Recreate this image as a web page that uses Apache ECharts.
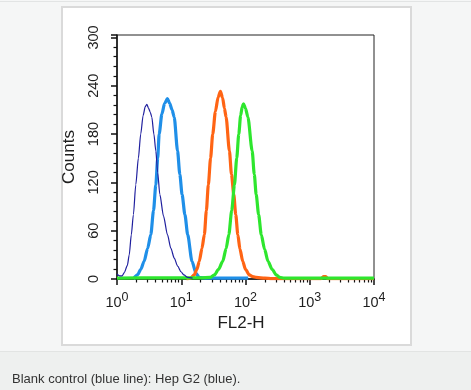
<!DOCTYPE html>
<html>
<head>
<meta charset="utf-8">
<script src="https://cdn.jsdelivr.net/npm/echarts@6/dist/echarts.min.js"></script>
<style>
html,body{margin:0;padding:0;background:#f5f6f6;}
#chart{width:471px;height:390px;}
</style>
</head>
<body>
<div id="chart"></div>
<script>
// ---- data (FL2-H intensity, counts) ----
const controlX = [1.0, 1.1, 1.2, 1.3, 1.45, 1.55, 1.67, 1.8, 1.96, 2.15, 2.34, 2.55, 2.75, 2.91, 3.1, 3.3, 3.48, 3.75, 4.02, 4.3, 4.64, 5.3, 6.1, 6.9, 7.77, 8.8, 9.9, 11, 12.6, 15];
const controlY = [6, 4, 4, 8, 17, 30, 55, 80, 117, 150, 180, 203, 214, 217, 212, 207, 201, 180, 159, 132, 105, 78, 55, 38, 26, 16, 9, 5, 2, 1];

const hepBlueX = [1.8, 2.08, 2.35, 2.64, 3.0, 3.36, 3.7, 4.02, 4.3, 4.53, 5.0, 5.5, 6.1, 6.6, 7.2, 7.77, 8.76, 9.5, 10.3, 11.4, 12.6, 14.7, 17, 19, 25, 40, 110];
const hepBlueY = [0, 5, 12, 22, 38, 55, 85, 117, 150, 180, 205, 218, 224, 218, 210, 201, 159, 130, 105, 80, 55, 22, 7, 2, 1, 1, 1];

const orangeX = [12, 14, 15.9, 17.5, 19.1, 21, 22.9, 24.6, 26.4, 28.6, 30.9, 34, 37.5, 40.7, 44, 47, 49.9, 56.2, 60.5, 65.7, 70.5, 76, 82, 90.6, 100, 115, 130, 147, 200, 260, 1500, 1650, 1780, 1900, 10000];
const orangeY = [0, 1, 5, 12, 22, 38, 55, 85, 117, 150, 180, 208, 226, 233, 225, 212, 201, 159, 130, 105, 80, 55, 37, 22, 12, 5, 3, 2, 1, 0.5, 0.5, 3, 3, 0.5, 0.5];

const greenX = [1, 5, 10, 20, 28, 32.8, 38, 44.2, 50, 55, 61, 67.3, 73, 78.6, 84, 89, 93, 100, 109, 127, 137, 146.6, 160, 176, 198, 224, 260, 302, 340, 400, 1000, 10000];
const greenY = [1, 1.5, 1.5, 1.5, 2, 5, 12, 22, 38, 55, 85, 117, 150, 180, 203, 214, 217.5, 212, 201, 159, 130, 105, 80, 55, 37, 22, 12, 5, 2, 1, 1, 1];

const yTicks = [0, 60, 120, 180, 240, 300];
const captionText = 'Blank control (blue line): Hep G2 (blue).';

function pairs(xs, ys) { return xs.map((x, i) => [x, ys[i]]); }

// minor log ticks (2..9 per decade) expressed in decade units for the overlay axis
const minorTickValues = [];
for (let d = 0; d < 4; d++) {
  for (let m = 2; m <= 9; m++) minorTickValues.push(d + Math.log10(m));
}

const FONT = 'Liberation Sans, Arial, Helvetica, sans-serif';
const TXT = '#1e1e1e';
const chart = echarts.init(document.getElementById('chart'));

function lineSeries(name, xs, ys, color, width) {
  return {
    name: name, type: 'line', xAxisIndex: 0, data: pairs(xs, ys),
    showSymbol: false, smooth: 0.25, smoothMonotone: 'x',
    lineStyle: { color: color, width: width }
  };
}

chart.setOption({
  animation: false,
  backgroundColor: '#f5f6f6',
  graphic: [
    { type: 'rect', z: -10, shape: { x: 0, y: 1, width: 471, height: 1 }, style: { fill: '#e2e4e4' } },
    { type: 'rect', z: -9, shape: { x: 62, y: 7, width: 349, height: 338 }, style: { fill: '#ffffff', stroke: '#dadada', lineWidth: 2 } },
    { type: 'rect', z: -9, shape: { x: 0, y: 351, width: 471, height: 39 }, style: { fill: '#eef0ef' } },
    { type: 'rect', z: -8, shape: { x: 0, y: 351, width: 471, height: 1 }, style: { fill: '#e2e4e3' } },
    { type: 'text', z: 10, x: 12, y: 379, style: { text: captionText, fill: '#333333', font: '13px ' + FONT, textVerticalAlign: 'middle' } }
  ],
  grid: {
    left: 117, right: 97, top: 35, bottom: 111,
    show: true, borderColor: '#222222', borderWidth: 1, backgroundColor: '#ffffff',
    outerBoundsMode: 'none'
  },
  xAxis: [
    {
      type: 'log', logBase: 10, min: 1, max: 10000,
      position: 'bottom',
      name: 'FL2-H', nameLocation: 'middle', nameGap: 31,
      nameTextStyle: { fontFamily: FONT, fontSize: 17, color: TXT, padding: [0, 9, 0, 0] },
      axisLine: { show: true, lineStyle: { color: '#111', width: 1.5 } },
      axisTick: { show: true, inside: false, length: 6, lineStyle: { color: '#111', width: 1.5 } },
      minorTick: { show: false },
      splitLine: { show: false },
      axisLabel: {
        margin: 12,
        formatter: function (v) { return '{b|10}{s|' + Math.round(Math.log10(v)) + '}'; },
        rich: {
          b: { fontFamily: FONT, fontSize: 14.5, color: TXT },
          s: { fontFamily: FONT, fontSize: 12.5, color: TXT, padding: [0, 0, 10, 0] }
        }
      }
    },
    {
      type: 'value', min: 0, max: 4,
      position: 'bottom', offset: 0,
      axisLine: { show: false },
      axisLabel: { show: false },
      splitLine: { show: false },
      axisTick: { show: true, inside: false, length: 3.5, customValues: minorTickValues, lineStyle: { color: '#111', width: 1.2 } }
    }
  ],
  yAxis: {
    type: 'value', min: 0, max: 303, interval: 60,
    name: 'Counts', nameLocation: 'middle', nameGap: 29,
    nameTextStyle: { fontFamily: FONT, fontSize: 17, color: TXT },
    axisLine: { show: true, lineStyle: { color: '#111', width: 1.5 } },
    axisTick: { show: true, inside: false, length: 6, lineStyle: { color: '#111', width: 1.5 } },
    minorTick: { show: true, splitNumber: 5, length: 3.5, lineStyle: { color: '#111', width: 1.2 } },
    splitLine: { show: false },
    axisLabel: {
      rotate: 90, margin: 16, fontFamily: FONT, fontSize: 14.5, color: TXT,
      formatter: function (v) { return yTicks.indexOf(v) >= 0 ? String(v) : ''; }
    }
  },
  series: [
    lineSeries('Hep G2', hepBlueX, hepBlueY, '#1f8fe8', 3.2),
    lineSeries('Orange', orangeX, orangeY, '#ff6414', 3.2),
    lineSeries('Green', greenX, greenY, '#2ee62e', 3.2),
    lineSeries('Blank control', controlX, controlY, '#1f1f9e', 1.2)
  ]
});
</script>
</body>
</html>
